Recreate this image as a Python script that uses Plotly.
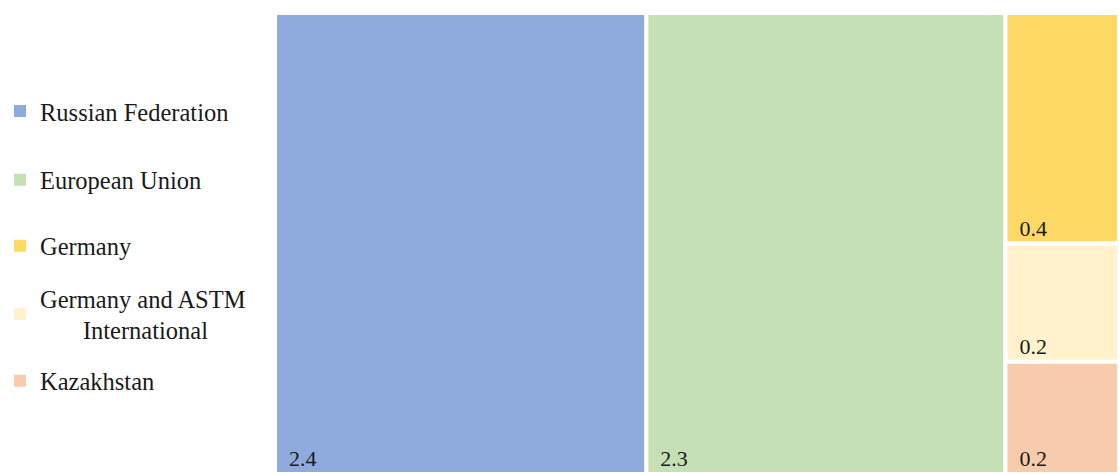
import plotly.graph_objects as go

categories = ["Russian Federation", "European Union", "Germany",
              "Germany and ASTM International", "Kazakhstan"]
values = [2.42, 2.34, 0.37, 0.19, 0.18]
colors = ["#8FAADC", "#C5E0B4", "#FFD966", "#FFF2CC", "#F8CBAD"]
legend_labels = ["Russian Federation", "European Union", "Germany",
                 "Germany and ASTM<br>" + "&nbsp;" * 7 + "International", "Kazakhstan"]
legend_y = [0.787, 0.638, 0.495, 0.347, 0.202]

FONT = "Liberation Serif"

fig = go.Figure()
fig.add_trace(go.Treemap(
    labels=categories,
    parents=[""] * len(categories),
    values=values,
    marker=dict(colors=colors, line=dict(color="white", width=4),
                pad=dict(t=0, l=0, r=0, b=0)),
    tiling=dict(pad=0),
    textinfo="value",
    texttemplate="&nbsp;&nbsp;%{value:.1f}",
    textposition="bottom left",
    textfont=dict(family=FONT, size=22, color="#1a1a1a"),
    pathbar=dict(visible=False),
    sort=False,
    domain=dict(x=[275 / 1119, 1], y=[0, 1]),
    hoverinfo="label+value",
))

legend_layout = {}
for i, (lab, col, ly) in enumerate(zip(legend_labels, colors, legend_y)):
    key = "legend" if i == 0 else f"legend{i + 1}"
    fig.add_trace(go.Scatter(
        x=[None], y=[None], mode="markers", name=lab,
        marker=dict(symbol="square", size=13, color=col),
        legend=key, showlegend=True,
    ))
    legend_layout[key] = dict(
        x=0, xanchor="left", y=ly, yanchor="middle",
        font=dict(family=FONT, size=24.5, color="#1a1a1a"),
        itemsizing="constant", bgcolor="rgba(0,0,0,0)",
    )

fig.update_layout(
    width=1119, height=474,
    margin=dict(l=0, r=0, t=13, b=0, autoexpand=False),
    paper_bgcolor="white", plot_bgcolor="white",
    xaxis=dict(visible=False, domain=[0, 0.01]),
    yaxis=dict(visible=False),
    showlegend=True,
    **legend_layout,
)

fig.write_html("out.html", config={"displayModeBar": False},
               post_script="document.body.style.margin='0';")
